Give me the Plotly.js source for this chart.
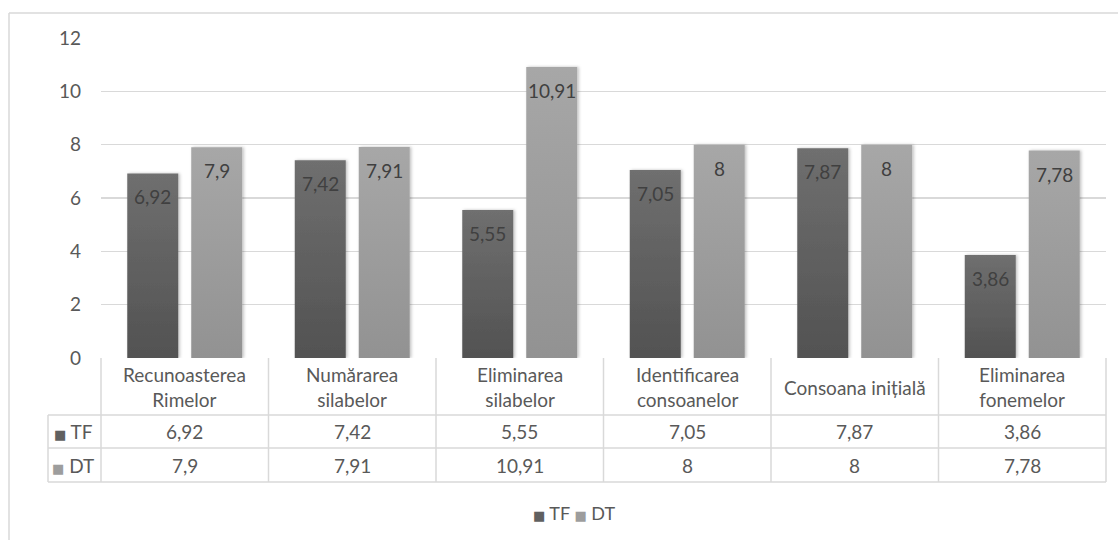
<!DOCTYPE html>
<html>
<head>
<meta charset="utf-8">
<script src="https://cdn.plot.ly/plotly-3.0.1.min.js"></script>
<style>
  html, body { margin: 0; padding: 0; background: #fff; }
  #chart { width: 1118px; height: 540px; }
</style>
</head>
<body>
<div id="chart"></div>
<script>
// ---- data ----
const categories = ['Recunoasterea Rimelor', 'Numărarea silabelor', 'Eliminarea silabelor',
                    'Identificarea consoanelor', 'Consoana inițială', 'Eliminarea fonemelor'];
const headerLabels = ['Recunoasterea<br>Rimelor', 'Numărarea<br>silabelor', 'Eliminarea<br>silabelor',
                      'Identificarea<br>consoanelor', 'Consoana inițială', 'Eliminarea<br>fonemelor'];
const seriesNames = ['TF', 'DT'];
const tfValues = [6.92, 7.42, 5.55, 7.05, 7.87, 3.86];
const dtValues = [7.9, 7.91, 10.91, 8, 8, 7.78];
const yTicks = [0, 2, 4, 6, 8, 10, 12];

// ---- style ----
const FONT = 'Lato, "Open Sans", sans-serif';
const FS = 19;
const TXT = '#595959';
const LINE = '#d9d9d9';
const COL_TF = '#606060';
const COL_DT = '#9d9d9d';

const fmt = v => String(v).replace('.', ',');

// pixel helpers (plot area: x 101..1106, y 38..358)
const L = 101, R = 1106, T = 38, B = 358;
const W = R - L, H = B - T;
const py = p => -(p - B) / H;        // pixel y -> paper y
const px = p => (p - L) / W;         // pixel x -> paper x

const traces = [
  { type: 'bar', name: seriesNames[0], x: categories, y: tfValues,
    marker: { color: COL_TF }, hoverinfo: 'none' },
  { type: 'bar', name: seriesNames[1], x: categories, y: dtValues,
    marker: { color: COL_DT }, hoverinfo: 'none' }
];

const annotations = [];
const shapes = [];
const barOffset = 32;
const square = (c, size) => '<span style="color:' + c + ';font-size:' + size + 'px;font-family:DejaVu Sans">■</span>';

// data labels inside the top of each bar
[tfValues, dtValues].forEach((vals, s) => {
  vals.forEach((v, i) => {
    annotations.push({
      x: categories[i], y: v, xref: 'x', yref: 'y',
      text: fmt(v), showarrow: false,
      xshift: s === 0 ? -barOffset : barOffset, yshift: -10,
      yanchor: 'top', xanchor: 'center',
      font: { family: FONT, size: FS, color: '#404040' }
    });
  });
});

// table header
headerLabels.forEach((lab, i) => {
  annotations.push({
    x: categories[i], y: py(387), xref: 'x', yref: 'paper',
    text: lab, showarrow: false, xanchor: 'center', yanchor: 'middle',
    font: { family: FONT, size: FS, color: TXT }
  });
});
// table rows
const rowCenters = [431, 465];
const rowColors = [COL_TF, COL_DT];
[tfValues, dtValues].forEach((vals, s) => {
  annotations.push({
    x: px(73), y: py(rowCenters[s]), xref: 'paper', yref: 'paper',
    text: square(rowColors[s], 13) + ' ' + seriesNames[s],
    showarrow: false, xanchor: 'center', yanchor: 'middle',
    font: { family: FONT, size: FS, color: TXT }
  });
  vals.forEach((v, i) => {
    annotations.push({
      x: categories[i], y: py(rowCenters[s]), xref: 'x', yref: 'paper',
      text: fmt(v), showarrow: false, xanchor: 'center', yanchor: 'middle',
      font: { family: FONT, size: FS, color: TXT }
    });
  });
});

// legend (below the table)
annotations.push({
  x: px(574), y: py(513), xref: 'paper', yref: 'paper', showarrow: false,
  xanchor: 'center', yanchor: 'middle',
  text: seriesNames.map((n, s) => square(rowColors[s], 13) + ' ' + n).join(' '),
  font: { family: FONT, size: 18, color: TXT }
});

// table grid lines
const lineStyle = { color: LINE, width: 1.5 };
const hLines = [[415, 48], [448, 48], [482, 48]];
hLines.forEach(([y, x0]) => {
  shapes.push({ type: 'line', xref: 'paper', yref: 'paper',
    x0: px(x0), x1: 1, y0: py(y), y1: py(y), line: lineStyle });
});
for (let i = 0; i <= categories.length; i++) {
  shapes.push({ type: 'line', xref: 'paper', yref: 'paper',
    x0: i / categories.length, x1: i / categories.length, y0: 0, y1: py(482), line: lineStyle });
}
shapes.push({ type: 'line', xref: 'paper', yref: 'paper',
  x0: px(48), x1: px(48), y0: py(415), y1: py(482), line: lineStyle });

// outer chart border (left + top visible)
shapes.push({ type: 'line', xref: 'paper', yref: 'paper',
  x0: px(9), x1: px(9), y0: py(13), y1: py(560), line: { color: LINE, width: 1.5 } });
shapes.push({ type: 'line', xref: 'paper', yref: 'paper',
  x0: px(9), x1: px(1130), y0: py(13), y1: py(13), line: { color: LINE, width: 1.5 } });

const layout = {
  width: 1118, height: 540,
  margin: { l: L, r: 1118 - R, t: T, b: 540 - B },
  paper_bgcolor: '#fff', plot_bgcolor: '#fff',
  font: { family: FONT, size: FS, color: TXT },
  barmode: 'group', bargap: 0.236, bargroupgap: 0.203,
  showlegend: false,
  xaxis: { type: 'category', showticklabels: false, ticks: '', showgrid: false,
           zeroline: false, showline: false, fixedrange: true },
  yaxis: { range: [0, 12], tickvals: yTicks, ticktext: yTicks.map(String),
           showgrid: true, gridcolor: LINE, gridwidth: 1.5,
           zeroline: false, showline: false, ticks: '', ticklabelstandoff: 19,
           tickfont: { family: FONT, size: FS, color: TXT }, fixedrange: true },
  annotations: annotations,
  shapes: shapes
};

Plotly.newPlot('chart', traces, layout, { staticPlot: true, displayModeBar: false }).then(gd => {
  // add vertical gradients + soft shadow to bars
  const svg = gd.querySelector('.main-svg');
  const NS = 'http://www.w3.org/2000/svg';
  let defs = svg.querySelector('defs');
  if (!defs) { defs = document.createElementNS(NS, 'defs'); svg.insertBefore(defs, svg.firstChild); }
  const grads = [['gTF', '#6f6f6f', '#525252'], ['gDT', '#a7a7a7', '#929292']];
  grads.forEach(([id, c1, c2]) => {
    const g = document.createElementNS(NS, 'linearGradient');
    g.setAttribute('id', id); g.setAttribute('x1', '0'); g.setAttribute('y1', '0');
    g.setAttribute('x2', '0'); g.setAttribute('y2', '1');
    [[0, c1], [1, c2]].forEach(([o, c]) => {
      const st = document.createElementNS(NS, 'stop');
      st.setAttribute('offset', o); st.setAttribute('stop-color', c);
      g.appendChild(st);
    });
    defs.appendChild(g);
  });
  const f = document.createElementNS(NS, 'filter');
  f.setAttribute('id', 'barShadow'); f.setAttribute('x', '-20%'); f.setAttribute('y', '-10%');
  f.setAttribute('width', '140%'); f.setAttribute('height', '120%');
  const ds = document.createElementNS(NS, 'feDropShadow');
  ds.setAttribute('dx', '1.5'); ds.setAttribute('dy', '0'); ds.setAttribute('stdDeviation', '1.5');
  ds.setAttribute('flood-color', '#000'); ds.setAttribute('flood-opacity', '0.25');
  f.appendChild(ds); defs.appendChild(f);
  const barTraces = gd.querySelectorAll('.barlayer .trace');
  barTraces.forEach((tr, i) => {
    tr.querySelectorAll('.point path').forEach(p => {
      p.style.fill = 'url(#' + grads[i][0] + ')';
      p.style.filter = 'url(#barShadow)';
    });
  });
});
</script>
</body>
</html>
